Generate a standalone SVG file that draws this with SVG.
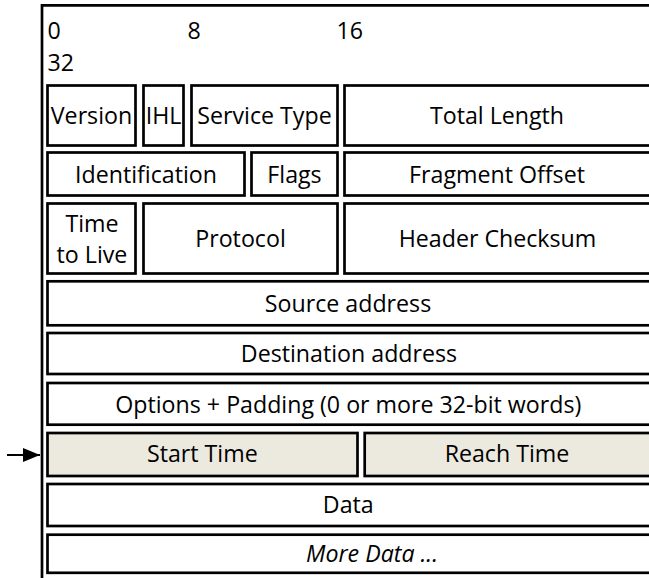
<svg xmlns="http://www.w3.org/2000/svg" width="649" height="578" viewBox="0 0 649 578">
<style>
  .box { fill: #ffffff; stroke: #000000; stroke-width: 2.7; }
  .hl { fill: #ECE9DF; stroke: #000000; stroke-width: 2.7; }
  .frame { fill: none; stroke: #000000; stroke-width: 2.7; }
  text { font-family: "Open Sans", "Liberation Sans", sans-serif; font-size: 23.2px; fill: #000000; }
  .c { text-anchor: middle; }
  .it { font-style: italic; }
</style>
<defs>
  <marker id="arrowhead" markerWidth="17" markerHeight="14" refX="17" refY="7" orient="auto" markerUnits="userSpaceOnUse">
    <polygon points="0,0 17,7 0,14" fill="#000000"/>
  </marker>
</defs>
<rect width="649" height="578" fill="#ffffff"/>
<g id="frame">
  <path class="frame" d="M42,578 V5.3 H652"/>
  <text x="47.5" y="39">0</text>
  <text x="187.5" y="39">8</text>
  <text x="336.5" y="39">16</text>
  <text x="47.5" y="70.5">32</text>
</g>
<g id="version"><rect class="box" x="47.5" y="85.5" width="88" height="60"/><text class="c" x="91.5" y="124">Version</text></g>
<g id="ihl"><rect class="box" x="143.5" y="85.5" width="40" height="60"/><text class="c" x="163.5" y="124">IHL</text></g>
<g id="service-type"><rect class="box" x="191.5" y="85.5" width="146" height="60"/><text class="c" x="264.5" y="124">Service Type</text></g>
<g id="total-length"><rect class="box" x="344.5" y="85.5" width="306.5" height="60"/><text class="c" x="497" y="124">Total Length</text></g>
<g id="identification"><rect class="box" x="47.5" y="152.5" width="197" height="43"/><text class="c" x="146" y="182.5">Identification</text></g>
<g id="flags"><rect class="box" x="251.5" y="152.5" width="86" height="43"/><text class="c" x="294.5" y="182.5">Flags</text></g>
<g id="fragment-offset"><rect class="box" x="344.5" y="152.5" width="306.5" height="43"/><text class="c" x="497" y="182.5">Fragment Offset</text></g>
<g id="ttl"><rect class="box" x="47.5" y="203.5" width="88" height="70"/><text class="c" x="92" y="231.7">Time</text><text class="c" x="92" y="263.3">to Live</text></g>
<g id="protocol"><rect class="box" x="143.5" y="203.5" width="194" height="70"/><text class="c" x="240.5" y="247.3">Protocol</text></g>
<g id="header-checksum"><rect class="box" x="344.5" y="203.5" width="306.5" height="70"/><text class="c" x="497.5" y="247.3">Header Checksum</text></g>
<g id="source"><rect class="box" x="47.5" y="281.3" width="603.5" height="44"/><text class="c" x="348" y="311.7">Source address</text></g>
<g id="destination"><rect class="box" x="47.5" y="333" width="603.5" height="41"/><text class="c" x="349" y="361.7">Destination address</text></g>
<g id="options"><rect class="box" x="47.5" y="383" width="603.5" height="41.7"/><text class="c" x="348.3" y="413.3">Options + Padding (0 or more 32-bit words)</text></g>
<g id="start-time"><rect class="hl" x="47.5" y="433" width="310" height="43"/><text class="c" x="202.3" y="462">Start Time</text></g>
<g id="reach-time"><rect class="hl" x="364.7" y="433" width="286.3" height="43"/><text class="c" x="507" y="462">Reach Time</text></g>
<g id="data"><rect class="box" x="47.5" y="484" width="603.5" height="42"/><text class="c" x="348.3" y="513.3">Data</text></g>
<g id="more-data"><rect class="box" x="47.5" y="534.7" width="603.5" height="38.1"/><text class="c it" x="372" y="561.7">More Data ...</text></g>
<g id="connectors">
  <line x1="7" y1="455" x2="40" y2="455" stroke="#000000" stroke-width="2" marker-end="url(#arrowhead)"/>
</g>
</svg>
